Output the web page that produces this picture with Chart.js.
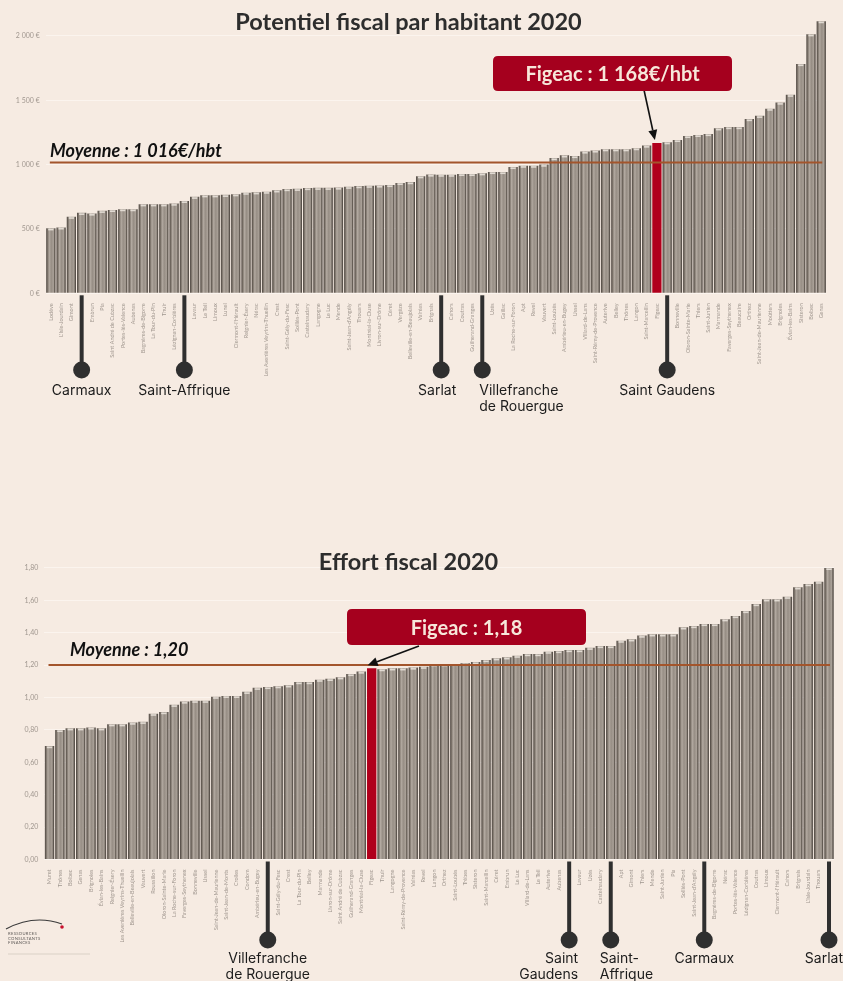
<!DOCTYPE html>
<html><head><meta charset="utf-8">
<script src="https://cdn.jsdelivr.net/npm/chart.js@4.4.1/dist/chart.umd.min.js"></script>
<style>
html,body{margin:0;padding:0;background:#f6ebe2;}
#wrap{position:relative;width:843px;height:981px;overflow:hidden;background:#f6ebe2;}
canvas{position:absolute;left:0;}
.title{position:absolute;left:0;width:817px;text-align:center;font-family:Lato,sans-serif;font-weight:700;color:#2d2d2d;font-size:23.5px;z-index:2;}
#logo{position:absolute;left:4px;top:912px;width:90px;height:45px;z-index:2;font-family:Lato,sans-serif;}
#logo .t{position:absolute;left:4px;font-size:4.2px;line-height:4.6px;color:#5e5a57;letter-spacing:0.3px;top:20px;}
</style></head>
<body>
<div id="wrap">
<canvas id="c1" width="843" height="420" style="top:0px;width:843px;height:420px"></canvas>
<canvas id="c2" width="843" height="441" style="top:540px;width:843px;height:441px"></canvas>
<div class="title" style="top:7px">Potentiel fiscal par habitant 2020</div>
<div class="title" style="top:547px">Effort fiscal 2020</div>
<div id="logo">
<svg width="90" height="20" style="position:absolute;left:0;top:0"><path d="M2 17 Q 30 2 58 12" stroke="#3a3a3a" stroke-width="1.2" fill="none"/><circle cx="58" cy="15" r="1.8" fill="#c8102e"/></svg>
<div class="t">RESSOURCES<br>CONSULTANTS<br>FINANCES</div>
<svg width="90" height="4" style="position:absolute;left:0;top:40px"><line x1="4" y1="2" x2="86" y2="2" stroke="#c9bfb6" stroke-width="0.6"/></svg>
</div>
</div>
<script>
// ---------- DATA : Potentiel fiscal par habitant 2020 ----------
const potCategories = ["Lodève","L'Isle-Jourdain","Gimont","Carmaux","Embrun","Pia","Saint André de Cubzac","Portes-lès-Valence","Aubenas","Bagnères-de-Bigorre","La Tour-du-Pin","Thuir","Lézignan-Corbières","Saint-Affrique","Lavaur","Le Teil","Limoux","Lunel","Clermont-l'Hérault","Reignier-Ésery","Nérac","Les Avenières Veyrins-Thuellin","Crest","Saint-Gély-du-Fesc","Solliès-Pont","Castelnaudary","Langogne","Le Luc","Mende","Saint-Jean-d'Angély","Thouars","Montréal-la-Cluse","Livron-sur-Drôme","Céret","Vergèze","Belleville-en-Beaujolais","Valréas","Brignais","Sarlat","Cahors","Coutras","Guilherand-Granges","Villefranche-de-Rouergue","Uzès","Gaillac","La Roche-sur-Foron","Apt","Revel","Vauvert","Saint-Loubès","Ambérieu-en-Bugey","Ussel","Villard-de-Lans","Saint-Rémy-de-Provence","Auterive","Belley","Thônes","Langon","Saint-Marcellin","Figeac","Saint-Gaudens","Bonneville","Oloron-Sainte-Marie","Thiers","Saint-Junien","Marmande","Faverges-Seythenex","Beaucaire","Orthez","Saint-Jean-de-Maurienne","Moûtiers","Brignoles","Évian-les-Bains","Sisteron","Bolbec","Genas"];
const potValues = [505,512,595,625,620,641,648,654,654,692,692,692,697,718,750,762,762,765,770,782,785,790,800,810,812,818,820,820,822,828,833,836,838,842,858,864,910,923,922,922,928,928,933,943,943,982,992,992,1000,1051,1072,1067,1102,1110,1120,1120,1120,1128,1148,1168,1174,1192,1223,1231,1238,1282,1292,1292,1354,1379,1435,1482,1543,1782,2013,2115];
const potYTicks = [0,500,1000,1500,2000];
const potMean = 1016;
const potMeanLabel = "Moyenne : 1 016€/hbt";
const potHighlight = "Figeac";
const potHighlightLabel = "Figeac : 1 168€/hbt";
const potMarked = ["Carmaux","Saint-Affrique","Sarlat","Villefranche-de-Rouergue","Saint-Gaudens"];
const potMarkedText = [["Carmaux"],["Saint-Affrique"],["Sarlat"],["Villefranche","de Rouergue"],["Saint Gaudens"]];

// ---------- DATA : Effort fiscal 2020 ----------
const effCategories = ["Muret","Thônes","Bolbec","Genas","Brignoles","Évian-les-Bains","Reignier-Ésery","Les Avenières Veyrins-Thuellin","Belleville-en-Beaujolais","Vauvert","Roussillon","Oloron-Sainte-Marie","La Roche-sur-Foron","Faverges-Seythenex","Bonneville","Ussel","Saint-Jean-de-Maurienne","Saint-Jean-de-Monts","Crolles","Condom","Ambérieu-en-Bugey","Villefranche-de-Rouergue","Saint-Gély-du-Fesc","Crest","La Tour-du-Pin","Belley","Marmande","Livron-sur-Drôme","Saint André de Cubzac","Guilherand-Granges","Montréal-la-Cluse","Figeac","Thuir","Langogne","Saint-Rémy-de-Provence","Valréas","Revel","Langon","Orthez","Saint-Loubès","Trèbes","Sisteron","Saint-Marcellin","Céret","Embrun","Le Luc","Villard-de-Lans","Le Teil","Auterive","Aubenas","Saint-Gaudens","Lavaur","Uzès","Castelnaudary","Saint-Affrique","Apt","Gimont","Thiers","Mende","Saint-Junien","Pia","Solliès-Pont","Saint-Jean-d'Angély","Carmaux","Bagnères-de-Bigorre","Nérac","Portes-lès-Valence","Lézignan-Corbières","Coutras","Limoux","Clermont-l'Hérault","Cahors","Brignais","L'Isle-Jourdain","Thouars","Sarlat"];
const effValues = [0.70,0.80,0.81,0.81,0.815,0.81,0.835,0.835,0.845,0.85,0.90,0.91,0.955,0.975,0.98,0.98,1.005,1.01,1.01,1.035,1.06,1.065,1.07,1.075,1.095,1.095,1.11,1.115,1.125,1.145,1.16,1.18,1.175,1.18,1.18,1.185,1.19,1.205,1.205,1.207,1.211,1.219,1.231,1.242,1.248,1.258,1.268,1.268,1.283,1.287,1.293,1.293,1.307,1.318,1.318,1.351,1.359,1.382,1.39,1.39,1.39,1.433,1.441,1.454,1.454,1.483,1.503,1.534,1.577,1.606,1.606,1.622,1.68,1.70,1.715,1.80];
const effYTicks = [0,0.2,0.4,0.6,0.8,1.0,1.2,1.4,1.6,1.8];
const effMean = 1.20;
const effMeanLabel = "Moyenne : 1,20";
const effHighlight = "Figeac";
const effHighlightLabel = "Figeac : 1,18";
const effMarked = ["Villefranche-de-Rouergue","Saint-Gaudens","Saint-Affrique","Carmaux","Sarlat"];
const effMarkedText = [["Villefranche","de Rouergue"],["Saint","Gaudens"],["Saint-","Affrique"],["Carmaux"],["Sarlat"]];

// ---------- STYLE ----------
const BAR_RED = '#b0001c';
const BOX_RED = '#a5001e';
const MEAN_COLOR = '#a3552c';
const TICK_COLOR = '#a0978f';
const MARK_COLOR = '#2f2f2f';

function barFill(ctx, hiIndex){
  const ch = ctx.chart;
  if (ctx.type !== 'data') return '#a39a91';
  if (ctx.dataIndex === hiIndex) return BAR_RED;
  const xs = ch.scales.x, ca = ch.chartArea;
  if (!xs || !ca) return '#a39a91';
  const n = ch.data.labels.length;
  const cx = xs.getPixelForValue(ctx.dataIndex);
  const w = (ca.right - ca.left) / n * 0.9;
  const g = ch.ctx.createLinearGradient(cx - w/2, 0, cx + w/2, 0);
  g.addColorStop(0, '#48413b');
  g.addColorStop(0.15, '#7b7269');
  g.addColorStop(0.33, '#b2a9a0');
  g.addColorStop(0.55, '#978e85');
  g.addColorStop(0.78, '#a9a097');
  g.addColorStop(0.9, '#696159');
  g.addColorStop(1, '#423b36');
  return g;
}

function drawArrow(ctx, x1, y1, x2, y2){
  ctx.strokeStyle = '#111'; ctx.fillStyle = '#111'; ctx.lineWidth = 1.6;
  const a = Math.atan2(y2 - y1, x2 - x1);
  const hl = 10, hw = 4.5;
  const bx = x2 - hl*Math.cos(a), by = y2 - hl*Math.sin(a);
  ctx.beginPath(); ctx.moveTo(x1, y1); ctx.lineTo(bx, by); ctx.stroke();
  ctx.beginPath(); ctx.moveTo(x2, y2);
  ctx.lineTo(bx + hw*Math.sin(a), by - hw*Math.cos(a));
  ctx.lineTo(bx - hw*Math.sin(a), by + hw*Math.cos(a));
  ctx.closePath(); ctx.fill();
}

function roundRect(ctx, x, y, w, h, r){
  ctx.beginPath();
  ctx.moveTo(x + r, y); ctx.lineTo(x + w - r, y); ctx.quadraticCurveTo(x + w, y, x + w, y + r);
  ctx.lineTo(x + w, y + h - r); ctx.quadraticCurveTo(x + w, y + h, x + w - r, y + h);
  ctx.lineTo(x + r, y + h); ctx.quadraticCurveTo(x, y + h, x, y + h - r);
  ctx.lineTo(x, y + r); ctx.quadraticCurveTo(x, y, x + r, y); ctx.closePath();
}

function makeChart(el, d, s){
  const hiIndex = d.categories.indexOf(d.highlight);
  const markedIdx = d.marked.map(m => d.categories.indexOf(m));
  const plugin = {
    id: 'annot',
    afterDatasetsDraw(chart){
      const ctx = chart.ctx, xs = chart.scales.x, ys = chart.scales.y;
      const n = d.categories.length;
      ctx.save();
      const meta = chart.getDatasetMeta(0);
      meta.data.forEach((b, i) => {
        if (i === hiIndex) return;
        const w = b.width;
        ctx.fillStyle = 'rgba(232,225,217,0.9)';
        ctx.fillRect(b.x - w/2 + 2, b.y + 0.5, w - 4, 1.6);
      });
      // mean line
      const my = ys.getPixelForValue(d.mean);
      ctx.strokeStyle = MEAN_COLOR; ctx.lineWidth = 2;
      ctx.beginPath(); ctx.moveTo(xs.getPixelForValue(0) - 1, my); ctx.lineTo(xs.getPixelForValue(n - 1) + 1, my); ctx.stroke();
      ctx.fillStyle = '#111'; ctx.font = 'italic 700 ' + s.meanFont + 'px Lato';
      ctx.textAlign = 'left'; ctx.textBaseline = 'alphabetic';
      ctx.fillText(d.meanLabel, s.meanX, my - s.meanOffset);
      // callout
      const hb = meta.data[hiIndex];
      const bx = s.box;
      drawArrow(ctx, s.arrowFrom[0], s.arrowFrom[1], hb.x + s.arrowTipDx, hb.y - 3);
      roundRect(ctx, bx[0], bx[1], bx[2], bx[3], 5);
      ctx.fillStyle = BOX_RED; ctx.fill();
      ctx.fillStyle = '#f7e7da'; ctx.font = '700 ' + s.boxFont + 'px Lato'; ctx.textAlign = 'center';
      ctx.fillText(d.highlightLabel, bx[0] + bx[2]/2, bx[1] + s.boxBase);
      // markers
      const y0 = xs.top + 2;
      markedIdx.forEach((idx, k) => {
        const x = xs.getPixelForValue(idx);
        ctx.strokeStyle = MARK_COLOR; ctx.lineWidth = 4;
        ctx.beginPath(); ctx.moveTo(x, y0); ctx.lineTo(x, s.circleY); ctx.stroke();
        ctx.fillStyle = MARK_COLOR; ctx.beginPath(); ctx.arc(x, s.circleY, 8.5, 0, Math.PI*2); ctx.fill();
        ctx.fillStyle = '#1c1c1c'; ctx.font = '14px Inter';
        const lines = d.markedText[k];
        const al = (s.markAlign && s.markAlign[k]) || ['center', 0];
        ctx.textAlign = al[0];
        lines.forEach((t, j) => {
          let tx = x + al[1];
          if (al[0] === 'center') {
            const tw = ctx.measureText(t).width;
            tx = Math.min(tx, chart.width - tw/2 - 1);
          }
          ctx.fillText(t, tx, s.textY + j*15.5);
        });
      });
      ctx.restore();
    }
  };
  return new Chart(el, {
    type: 'bar',
    data: {
      labels: d.categories,
      datasets: [{
        data: d.values,
        backgroundColor: c => barFill(c, hiIndex),
        borderWidth: 0,
        barPercentage: 0.9,
        categoryPercentage: 1.0
      }]
    },
    options: {
      responsive: false,
      animation: false,
      devicePixelRatio: 1,
      layout: { padding: { top: s.padTop, right: s.padRight, left: 0, bottom: 0 } },
      plugins: { legend: { display: false }, tooltip: { enabled: false }, title: { display: false } },
      scales: {
        x: {
          grid: { display: false },
          border: { display: false },
          afterFit: sc => { sc.height = s.xHeight; },
          ticks: {
            autoSkip: false, maxRotation: 90, minRotation: 90, padding: 2,
            color: TICK_COLOR, font: { size: 5.5, family: 'Lato' },
            callback: (v, i) => markedIdx.includes(i) ? '' : d.categories[i]
          }
        },
        y: {
          min: 0, max: s.yMax,
          grid: { color: '#fbf4ee', lineWidth: 1, drawTicks: false },
          border: { display: false },
          afterFit: sc => { sc.width = s.yWidth; },
          afterBuildTicks: sc => { sc.ticks = d.yTicks.map(v => ({ value: v })); },
          ticks: { padding: 6, color: TICK_COLOR, font: { size: 7, family: 'Lato' }, callback: s.fmt }
        }
      }
    },
    plugins: [plugin]
  });
}

function fmtEuro(v){
  if (v >= 1000) { const t = Math.floor(v/1000), r = String(v % 1000).padStart(3, '0'); return t + ' ' + r + ' €'; }
  return v + ' €';
}
function fmtDec(v){ return v.toFixed(2).replace('.', ','); }

makeChart(document.getElementById('c1'), {
  categories: potCategories, values: potValues, yTicks: potYTicks, mean: potMean, meanLabel: potMeanLabel,
  highlight: potHighlight, highlightLabel: potHighlightLabel, marked: potMarked, markedText: potMarkedText
}, {
  padTop: 7.3, padRight: 16.6, xHeight: 126.7, yWidth: 45.7, yMax: 2200, fmt: fmtEuro,
  meanFont: 18, meanX: 50, meanOffset: 5.5,
  box: [493, 56, 239, 35], boxFont: 20, boxBase: 25, arrowFrom: [644, 90], arrowTipDx: -2,
  circleY: 370, textY: 395, markAlign: [['center',0],['center',0],['center',-4],['left',-3],['center',0]]
});

makeChart(document.getElementById('c2'), {
  categories: effCategories, values: effValues, yTicks: effYTicks, mean: effMean, meanLabel: effMeanLabel,
  highlight: effHighlight, highlightLabel: effHighlightLabel, marked: effMarked, markedText: effMarkedText
}, {
  padTop: 19.8, padRight: 8.8, xHeight: 121.5, yWidth: 44.3, yMax: 1.85, fmt: fmtDec,
  meanFont: 18, meanX: 70, meanOffset: 9.5,
  box: [347, 69, 239, 36], boxFont: 20, boxBase: 25.5, arrowFrom: [419, 106], arrowTipDx: -4,
  circleY: 400, textY: 423, markAlign: [['center',0],['right',9],['left',-11],['center',0],['right',14]]
});
</script>
</body></html>
